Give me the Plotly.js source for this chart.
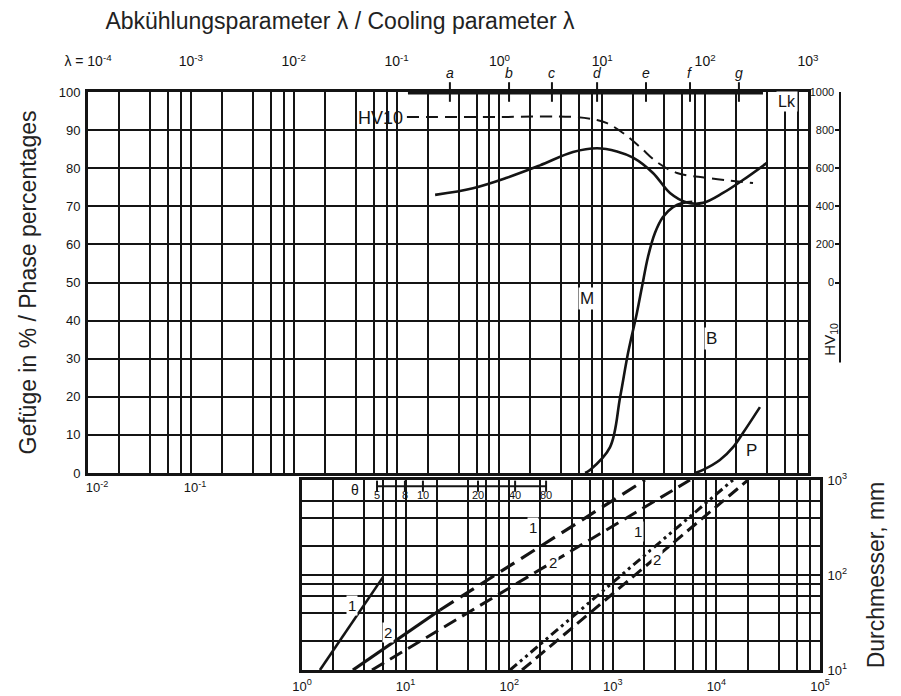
<!DOCTYPE html>
<html><head><meta charset="utf-8">
<script src="https://cdn.plot.ly/plotly-3.0.1.min.js"></script>
<style>html,body{margin:0;padding:0;background:#fff}#chart{width:901px;height:696px}</style>
</head><body><div id="chart"></div>
<script>
// ---------- upper panel data (lambda = cooling parameter) ----------
const hvSolidLambda = [0.237, 0.553, 1.18, 2.48, 5.19, 8.89, 13.9, 19.9, 31.1, 45.5, 66.6, 95.3, 149, 233, 399];
const hvSolidValue  = [460, 495, 550, 615, 685, 705, 688, 655, 575, 470, 420, 418, 470, 538, 628];
const hvDashLambda  = [0.126, 1.0, 5.19, 8.89, 11.1, 15.9, 23.3, 34.0, 53.3, 104, 292];
const hvDashValue   = [869, 869, 869, 853, 837, 785, 711, 632, 575, 549, 522];
const mLambda  = [6.8, 7.6, 11.9, 14.9, 17.8, 21.7, 24.3, 27.8, 32.5, 38.9, 48.7, 60.8, 75];
const mPercent = [0, 0.8, 6.8, 19.9, 31.5, 42, 48.8, 56.7, 63, 67.2, 69.8, 70.9, 71.2];
const pLambda  = [79.6, 95.3, 139, 187, 233, 341];
const pPercent = [0, 0.8, 3.4, 6.8, 10.5, 17.3];
const markLetters = ['a','b','c','d','e','f','g'];
const markLambda  = [0.33, 1.24, 3.24, 8.9, 26.6, 71.3, 213];
const barLambda   = [0.129, 365];
const lambdaDecadeLabels = ['λ = 10<sup>-4</sup>','10<sup>-3</sup>','10<sup>-2</sup>','10<sup>-1</sup>','10<sup>0</sup>','10<sup>1</sup>','10<sup>2</sup>','10<sup>3</sup>'];
const bottomTickVals   = [0.01, 0.1];
const bottomTickLabels = ['10<sup>-2</sup>','10<sup>-1</sup>'];
const percentTicks = [0,10,20,30,40,50,60,70,80,90,100];
const hvTicks = [0,200,400,600,800,1000];

// ---------- lower panel data (diameter, mm) ----------
const line1Time = [1.49, 6.05];     const line1Diam = [10, 95];
const g2aSolidTime = [3.1, 21.5];   const g2aSolidDiam = [10, 42.8];
const g2aDashTime  = [21.5, 2046];  const g2aDashDiam  = [42.8, 1000];
const g2bTime = [4.74, 5560];       const g2bDiam = [10, 1000];
const g3aTime = [102, 14450];       const g3aDiam = [10, 1000];
const g3bTime = [133, 20180];       const g3bDiam = [10, 1000];
const curveLabels = ['1','2','1','2','1','2'];
const curveLabelTime = [3.04, 6.76, 170, 265, 1750, 2670];
const curveLabelDiam = [47.2, 25.1, 313, 137, 284, 144];
const thetaLabels = ['5','8','10','20','40','80'];
const thetaTime   = [5.3, 9.85, 14.7, 50, 114, 227];
const thetaDiam   = 860;
const timeDecadeLabels = ['10<sup>0</sup>','10<sup>1</sup>','10<sup>2</sup>','10<sup>3</sup>','10<sup>4</sup>','10<sup>5</sup>'];
const diamDecadeLabels = ['10<sup>1</sup>','10<sup>2</sup>','10<sup>3</sup>'];

// ---------- helpers ----------
const W = 901, H = 696;
const px = x => x / W, py = y => 1 - y / H;
const INK = '#141414';
const L = Math.log10;
function logGrid(lo, hi, mant) {
  const v = [];
  for (let e = lo; e < hi; e++) for (const m of mant) v.push(m * Math.pow(10, e));
  v.push(Math.pow(10, hi));
  return v;
}
function decadeText(vals, labels, lo) {
  return vals.map(v => { const l = L(v); return Math.abs(l - Math.round(l)) < 1e-9 ? labels[Math.round(l) - lo] : ''; });
}
const lamGrid = logGrid(-4, 3, [1,2,4,6,8]);
const timeGrid = logGrid(0, 5, [1,2,4,6,8]);
const diamGrid = [10,20,40,60,80,100,200,400,600,1000];
const SANS = 'Liberation Sans, Arial, Helvetica, sans-serif';
const tickFont = {family: SANS, size: 13, color: INK};
const lblFont = {family: SANS, size: 17, color: INK};
const titleFont = {family: SANS, size: 23, color: '#222'};

const traces = [
  {x: hvSolidLambda, y: hvSolidValue, xaxis: 'x', yaxis: 'y2', mode: 'lines', line: {color: INK, width: 2.6, shape: 'spline'}, hoverinfo: 'skip'},
  {x: hvDashLambda, y: hvDashValue, xaxis: 'x', yaxis: 'y2', mode: 'lines', line: {color: INK, width: 2, dash: '12px,7px', shape: 'spline'}, hoverinfo: 'skip'},
  {x: mLambda, y: mPercent, xaxis: 'x', yaxis: 'y', mode: 'lines', line: {color: INK, width: 2.6, shape: 'spline'}, hoverinfo: 'skip'},
  {x: pLambda, y: pPercent, xaxis: 'x', yaxis: 'y', mode: 'lines', line: {color: INK, width: 2.6, shape: 'spline'}, hoverinfo: 'skip'},
  {x: barLambda, y: [100, 100], xaxis: 'x', yaxis: 'y', mode: 'lines', line: {color: INK, width: 5}, cliponaxis: false, hoverinfo: 'skip'},
  {x: markLambda, y: markLambda.map(() => 100), xaxis: 'x', yaxis: 'y', mode: 'markers', marker: {symbol: 'line-ns', size: 14, line: {color: INK, width: 2}}, cliponaxis: false, hoverinfo: 'skip'},
  {x: bottomTickVals, y: [0, 0], xaxis: 'x3', yaxis: 'y', mode: 'markers', marker: {opacity: 0}, hoverinfo: 'skip'},
  // lower panel
  {x: line1Time, y: line1Diam, xaxis: 'x2', yaxis: 'y3', mode: 'lines', line: {color: INK, width: 2.6}, hoverinfo: 'skip'},
  {x: g2aSolidTime, y: g2aSolidDiam, xaxis: 'x2', yaxis: 'y3', mode: 'lines', line: {color: INK, width: 3.2}, hoverinfo: 'skip'},
  {x: g2aDashTime, y: g2aDashDiam, xaxis: 'x2', yaxis: 'y3', mode: 'lines', line: {color: INK, width: 3.2, dash: '16px,8px'}, hoverinfo: 'skip'},
  {x: g2bTime, y: g2bDiam, xaxis: 'x2', yaxis: 'y3', mode: 'lines', line: {color: INK, width: 3, dash: '14px,7px'}, hoverinfo: 'skip'},
  {x: g3aTime, y: g3aDiam, xaxis: 'x2', yaxis: 'y3', mode: 'lines', line: {color: INK, width: 3, dash: '9px,4px,3px,4px,3px,4px'}, hoverinfo: 'skip'},
  {x: g3bTime, y: g3bDiam, xaxis: 'x2', yaxis: 'y3', mode: 'lines', line: {color: INK, width: 3, dash: '12px,6px'}, hoverinfo: 'skip'},
  {x: thetaTime, y: thetaTime.map(() => thetaDiam), xaxis: 'x2', yaxis: 'y3', mode: 'lines+markers', line: {color: INK, width: 2}, marker: {symbol: 'line-ns', size: 8, line: {color: INK, width: 2}}, hoverinfo: 'skip'}
];

const annotations = [
  ...markLetters.map((t, i) => ({x: L(markLambda[i]), y: 100, xref: 'x', yref: 'y', text: '<i>' + t + '</i>', showarrow: false, xanchor: 'center', yanchor: 'middle', yshift: 19, font: {family: SANS, size: 14, color: INK}})),
  {x: L(0.121), y: 93.2, xref: 'x', yref: 'y', text: 'HV10', showarrow: false, xanchor: 'right', yanchor: 'middle', font: {family: SANS, size: 18, color: INK}},
  {x: L(625), y: 97.6, xref: 'x', yref: 'y', text: 'Lk', showarrow: false, xanchor: 'center', yanchor: 'middle', font: {family: SANS, size: 16, color: INK}, bgcolor: '#fff'},
  {x: L(7.1), y: 45.9, xref: 'x', yref: 'y', text: 'M', showarrow: false, xanchor: 'center', yanchor: 'middle', font: lblFont, bgcolor: '#fff'},
  {x: L(116), y: 35.4, xref: 'x', yref: 'y', text: 'B', showarrow: false, xanchor: 'center', yanchor: 'middle', font: lblFont, bgcolor: '#fff'},
  {x: L(285), y: 6, xref: 'x', yref: 'y', text: 'P', showarrow: false, xanchor: 'center', yanchor: 'middle', font: lblFont, bgcolor: '#fff'},
  {x: px(831), y: -300, xref: 'paper', yref: 'y2', text: 'HV<sub>10</sub>', textangle: -90, showarrow: false, xanchor: 'center', yanchor: 'middle', font: {family: SANS, size: 15, color: INK}},
  {x: px(355), y: py(490), xref: 'paper', yref: 'paper', text: 'θ', showarrow: false, xanchor: 'center', yanchor: 'middle', font: {family: SANS, size: 14, color: INK}, bgcolor: '#fff'},
  ...thetaLabels.map((t, i) => ({x: L(thetaTime[i]), y: L(thetaDiam), xref: 'x2', yref: 'y3', text: t, showarrow: false, xanchor: 'center', yanchor: 'top', yshift: -1, font: {family: SANS, size: 11, color: INK}})),
  ...curveLabels.map((t, i) => ({x: L(curveLabelTime[i]), y: L(curveLabelDiam[i]), xref: 'x2', yref: 'y3', text: t, showarrow: false, xanchor: 'center', yanchor: 'middle', font: {family: SANS, size: 15, color: INK}, bgcolor: '#fff'}))
];

const baseAx = {showgrid: true, gridcolor: INK, gridwidth: 2, showline: true, linecolor: INK, linewidth: 3, mirror: true, ticks: '', zeroline: false, automargin: false, tickfont: tickFont, fixedrange: true};

const layout = {
  width: W, height: H,
  margin: {l: 0, r: 0, t: 0, b: 0},
  paper_bgcolor: '#fff', plot_bgcolor: 'rgba(0,0,0,0)',
  showlegend: false,
  title: {text: 'Abkühlungsparameter λ / Cooling parameter λ', x: px(340), xanchor: 'center', y: py(21), yanchor: 'middle', xref: 'paper', yref: 'paper', font: titleFont},
  xaxis: Object.assign({}, baseAx, {type: 'log', range: [-4, 3], domain: [px(88), px(808)], anchor: 'y', side: 'top', tickvals: lamGrid, ticktext: decadeText(lamGrid, lambdaDecadeLabels, -4), ticklabelstandoff: 17, tickfont: {family: SANS, size: 14, color: INK}}),
  yaxis: Object.assign({}, baseAx, {range: [0, 100], domain: [py(473), py(92)], anchor: 'x', tickvals: percentTicks, ticklabelstandoff: 2,
    title: {text: 'Gefüge in % / Phase percentages', standoff: 16, font: titleFont}}),
  xaxis3: {type: 'log', overlaying: 'x', anchor: 'y', side: 'bottom', range: [-2.092, 5.255], tickvals: bottomTickVals, ticktext: bottomTickLabels, showgrid: false, showline: false, zeroline: false, ticks: '', tickfont: tickFont, automargin: false, fixedrange: true, ticklabelstandoff: 5},
  yaxis2: {overlaying: 'y', anchor: 'free', position: px(840), side: 'right', range: [-1000, 1000], tickvals: hvTicks, ticks: 'inside', ticklen: 5, tickwidth: 2, tickcolor: INK, ticklabelposition: 'inside', ticklabeloverflow: 'allow', showgrid: false, showline: false, zeroline: false, automargin: false, fixedrange: true, tickfont: {family: SANS, size: 11, color: INK}},
  xaxis2: Object.assign({}, baseAx, {type: 'log', range: [0, 5], domain: [px(302), px(820)], anchor: 'y3', side: 'bottom', tickvals: timeGrid, ticktext: decadeText(timeGrid, timeDecadeLabels, 0), ticklabelstandoff: 2}),
  yaxis3: Object.assign({}, baseAx, {type: 'log', range: [1, 3], domain: [py(670), py(480)], anchor: 'x2', side: 'right', tickvals: diamGrid, ticktext: decadeText(diamGrid, diamDecadeLabels, 1), ticklabelstandoff: 2,
    title: {text: 'Durchmesser, mm', standoff: 22, font: titleFont}}),
  shapes: [
    {type: 'line', xref: 'paper', yref: 'y2', x0: px(840), x1: px(840), y0: -420, y1: 1000, line: {color: INK, width: 2}}
  ],
  annotations: annotations
};

Plotly.newPlot('chart', traces, layout, {staticPlot: true, displayModeBar: false});
</script></body></html>
